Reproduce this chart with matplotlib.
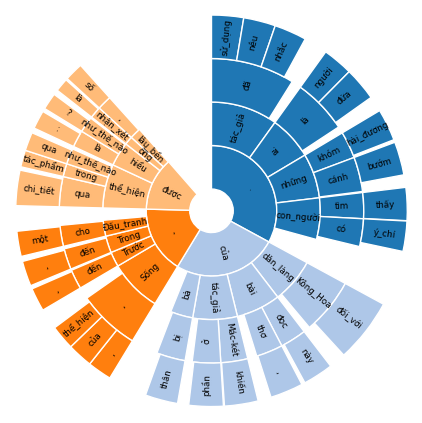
import math

import matplotlib
matplotlib.use("Agg")
import matplotlib.pyplot as plt
from matplotlib.patches import Wedge

# angular sizes in degrees (clockwise from 12 o'clock)
ring1_labels = [".", "của", ",", "được"]
ring1_values = [118.5, 92.8, 60.2, 47.3]

ring2_labels = ["tác_giả", "ai", "những", "con_người",
                "dân_làng", "bài", "tác_giả", "bà",
                "Sống", "Trước", "Trong", "Đấu_tranh",
                "thể_hiện", "hiểu", "ông", "lâu_bền"]
ring2_parent = [0, 0, 0, 0, 1, 1, 1, 1, 2, 2, 2, 2, 3, 3, 3, 3]
ring2_values = [35.7, 23.5, 23.9, 22.2,
                24.0, 23.7, 23.8, 12.0,
                28.2, 8.0, 9.0, 8.5,
                23.5, 13.0, 4.5, 6.0]

ring3_labels = ["đã", "là", "khóm", "cánh", "tìm", "có",
                "Kông_Hoa", "đọc", "thơ", "Mác-két", "ở", "bị",
                ",", "đến", "đến", "cho",
                "qua", "trong", "như_thế_nào", "là", "như_thế_nào", "nhận_xét", ","]
ring3_parent = [0, 1, 2, 2, 3, 3,
                4, 5, 5, 6, 6, 7,
                8, 9, 10, 11,
                12, 12, 12, 13, 13, 14, 15]
ring3_values = [32.0, 20.9, 10.3, 13.2, 9.9, 10.6,
                21.5, 10.0, 10.2, 10.3, 10.8, 11.0,
                23.7, 7.5, 8.0, 8.0,
                11.5, 5.0, 6.0, 6.5, 6.0, 4.5, 5.5]

ring4_labels = ["sử_dụng", "nêu", "nhắc", "người", "đứa", "hài_đương", "bướm", "thấy", "ý_chí",
                "đối_với", "này", ",", "khiến", "phần", "thân",
                ",", "của", "thể_hiện", ",", ",", "một",
                "chi_tiết", "tác_phẩm", "qua", ":", "?", "là", "số"]
ring4_parent = [0, 0, 0, 1, 1, 2, 3, 4, 5,
                6, 7, 8, 9, 10, 11,
                12, 12, 12, 13, 14, 15,
                16, 17, 18, 19, 20, 21, 22]
ring4_values = [9.5, 9.5, 9.6, 9.0, 9.9, 9.5, 9.9, 9.8, 9.0,
                19.0, 9.0, 9.8, 10.0, 10.2, 9.7,
                7.2, 7.5, 7.3, 7.0, 7.5, 7.5,
                10.5, 5.0, 5.5, 5.5, 5.0, 4.0, 5.5]

colors = ["#1f77b4", "#aec7e8", "#ff7f0e", "#ffbb78"]


def layout(values, parent, parent_start, parent_top):
    # children start at their parent's start angle and follow each other
    starts, tops = [], []
    cursor = {}
    for v, p in zip(values, parent):
        s = cursor.get(p, parent_start[p])
        starts.append(s)
        tops.append(parent_top[p])
        cursor[p] = s + v
    return starts, tops


s1 = []
acc = 0.0
for v in ring1_values:
    s1.append(acc)
    acc += v
top1 = list(range(len(ring1_values)))

s2, top2 = layout(ring2_values, ring2_parent, s1, top1)
s3, top3 = layout(ring3_values, ring3_parent, s2, top2)
s4, top4 = layout(ring4_values, ring4_parent, s3, top3)

rings = [
    (ring1_labels, ring1_values, s1, top1),
    (ring2_labels, ring2_values, s2, top2),
    (ring3_labels, ring3_values, s3, top3),
    (ring4_labels, ring4_values, s4, top4),
]

fig = plt.figure(figsize=(4.22, 4.23), dpi=100)
ax = fig.add_axes([0, 0, 1, 1])
ax.set_xlim(-4.862, 4.839)
ax.set_ylim(-4.878, 4.846)
ax.set_aspect("equal")
ax.axis("off")

for level, (labels, values, starts, tops) in enumerate(rings):
    r_out = level + 1.5
    for lab, v, s, t in zip(labels, values, starts, tops):
        # clockwise-from-north -> matplotlib angles
        ax.add_patch(Wedge((0, 0), r_out, 90 - (s + v), 90 - s, width=1.0,
                           facecolor=colors[t], edgecolor="white", linewidth=1.0))
        ang = 90 - (s + v / 2)
        rm = r_out - 0.5
        x = rm * math.cos(math.radians(ang))
        y = rm * math.sin(math.radians(ang))
        rot = (ang + 180) % 360 - 180
        if rot > 90:
            rot -= 180
        elif rot < -90:
            rot += 180
        ax.text(x, y, lab, rotation=rot, rotation_mode="anchor",
                ha="center", va="center", fontsize=6.3, color="black")

fig.savefig("out.png", dpi=100)
